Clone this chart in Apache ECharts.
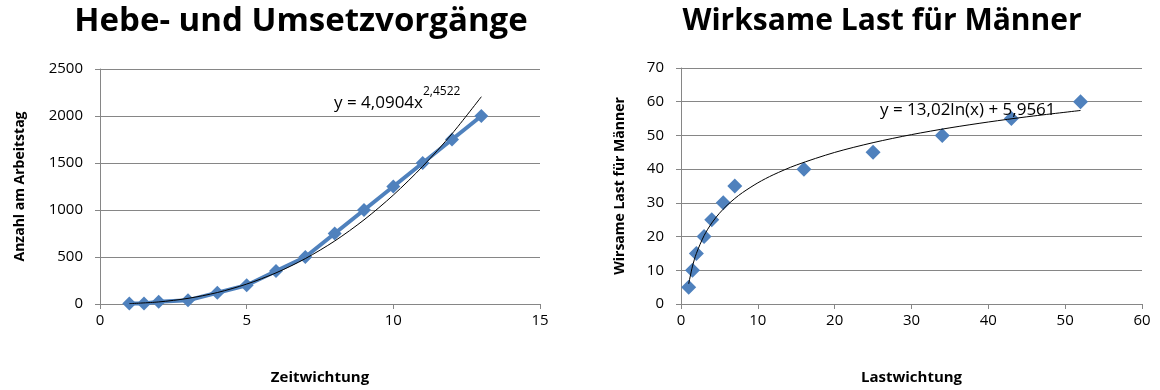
<!DOCTYPE html>
<html><head><meta charset="utf-8">
<script src="https://cdn.jsdelivr.net/npm/echarts@6/dist/echarts.min.js"></script>
<style>html,body{margin:0;padding:0;background:#fff}#c{width:1160px;height:390px}</style>
</head><body><div id="c"></div>
<script>
// Left chart: Hebe- und Umsetzvorgänge
const leftX = [1, 1.5, 2, 3, 4, 5, 6, 7, 8, 9, 10, 11, 12, 13];
const leftY = [5, 5, 25, 40, 120, 200, 350, 500, 750, 1000, 1250, 1500, 1750, 2000];
// power trendline (y = 4,0904x^2,4522)
const leftTrendX = [1, 2, 3, 4, 5, 6, 7, 8, 9, 10, 11, 12, 13];
const leftTrendY = [4, 22, 60, 122, 212, 331, 483, 670, 895, 1159, 1464, 1811, 2205];
const leftYTicks = [0, 500, 1000, 1500, 2000, 2500];
const leftXTicks = [0, 5, 10, 15];

// Right chart: Wirksame Last für Männer
const rightX = [1, 1.5, 2, 3, 4, 5.5, 7, 16, 25, 34, 43, 52];
const rightY = [5, 10, 15, 20, 25, 30, 35, 40, 45, 50, 55, 60];
// log trendline (y = 13,02ln(x) + 5,9561)
const rightTrendX = [1, 1.5, 2, 3, 4, 5, 6, 7, 8, 10, 12, 15, 20, 25, 30, 35, 40, 45, 52];
const rightTrendY = [5.96, 11.24, 14.98, 20.26, 24.01, 26.91, 29.28, 31.29, 33.03, 35.94, 38.31, 41.21, 44.96, 47.86, 50.24, 52.25, 53.98, 55.52, 57.40];
const rightYTicks = [0, 10, 20, 30, 40, 50, 60, 70];
const rightXTicks = [0, 10, 20, 30, 40, 50, 60];

const FONT = 'Open Sans';
const gray = '#868686';
const blue = '#4F81BD';

function zip(a, b) { return a.map((v, i) => [v, b[i]]); }

function xAxis(ticks, name, gi) {
  return {
    type: 'value', gridIndex: gi,
    min: ticks[0], max: ticks[ticks.length - 1], interval: ticks[1] - ticks[0],
    name: name, nameLocation: 'middle', nameGap: 66,
    nameTextStyle: { fontFamily: FONT, fontWeight: 'bold', fontSize: 15, color: '#000' },
    axisLine: { lineStyle: { color: gray, width: 1 } },
    axisTick: { show: true, length: 5, lineStyle: { color: gray } },
    axisLabel: { fontFamily: FONT, fontSize: 15, color: '#000', margin: 9, formatter: v => String(v) },
    splitLine: { show: false }
  };
}
function yAxis(ticks, name, gi, gap) {
  return {
    type: 'value', gridIndex: gi,
    min: ticks[0], max: ticks[ticks.length - 1], interval: ticks[1] - ticks[0],
    name: name, nameLocation: 'middle', nameGap: gap, nameRotate: 90,
    nameTextStyle: { fontFamily: FONT, fontWeight: 'bold', fontSize: 14, color: '#000' },
    axisLine: { show: true, lineStyle: { color: gray, width: 1 } },
    axisTick: { show: true, length: 5, lineStyle: { color: gray } },
    axisLabel: { fontFamily: FONT, fontSize: 15, color: '#000', margin: 17, formatter: v => String(v) },
    splitLine: { show: true, lineStyle: { color: gray, width: 1 } }
  };
}

const chart = echarts.init(document.getElementById('c'), null, { renderer: 'canvas' });
chart.setOption({
  animation: false,
  backgroundColor: '#fff',
  title: [
    { text: 'Hebe- und Umsetzvorgänge', left: 296, top: 0, textAlign: 'center',
      textStyle: { fontFamily: FONT, fontWeight: 'bold', fontSize: 33, color: '#000' } },
    { text: 'Wirksame Last für Männer', left: 877, top: 1, textAlign: 'center',
      textStyle: { fontFamily: FONT, fontWeight: 'bold', fontSize: 30, color: '#000' } }
  ],
  grid: [
    { left: 100, top: 69, width: 440, height: 238 },
    { left: 681, top: 68, width: 461, height: 239 }
  ],
  xAxis: [xAxis(leftXTicks, 'Zeitwichtung', 0), xAxis(rightXTicks, 'Lastwichtung', 1)],
  yAxis: [yAxis(leftYTicks, 'Anzahl am Arbeitstag', 0, 73), yAxis(rightYTicks, 'Wirsame Last für Männer', 1, 54)],
  series: [
    { type: 'line', xAxisIndex: 0, yAxisIndex: 0, data: zip(leftX, leftY),
      symbol: 'diamond', symbolSize: 14,
      lineStyle: { color: blue, width: 4 }, itemStyle: { color: blue, opacity: 1 }, z: 2 },
    { type: 'line', xAxisIndex: 0, yAxisIndex: 0, data: zip(leftTrendX, leftTrendY),
      symbol: 'none', smooth: 0.3, lineStyle: { color: '#000', width: 1 }, z: 3 },
    { type: 'scatter', xAxisIndex: 1, yAxisIndex: 1, data: zip(rightX, rightY),
      symbol: 'diamond', symbolSize: 15, itemStyle: { color: blue, opacity: 1 }, z: 2 },
    { type: 'line', xAxisIndex: 1, yAxisIndex: 1, data: zip(rightTrendX, rightTrendY),
      symbol: 'none', smooth: 0.3, lineStyle: { color: '#000', width: 1 }, z: 3 }
  ],
  graphic: [
    { type: 'text', left: 334, top: 86, z: 10,
      style: { text: '{a|y = 4,0904x}{b|2,4522}', rich: {
        a: { fontFamily: FONT, fontSize: 17, fill: '#000', verticalAlign: 'bottom', lineHeight: 26 },
        b: { fontFamily: FONT, fontSize: 12, fill: '#000', verticalAlign: 'top', lineHeight: 26, padding: [0, 0, 10, 0] } } } },
    { type: 'text', left: 880, top: 102, z: 10,
      style: { text: 'y = 13,02ln(x) + 5,9561', fontFamily: FONT, fontSize: 17, fill: '#000' } }
  ]
});
</script></body></html>
